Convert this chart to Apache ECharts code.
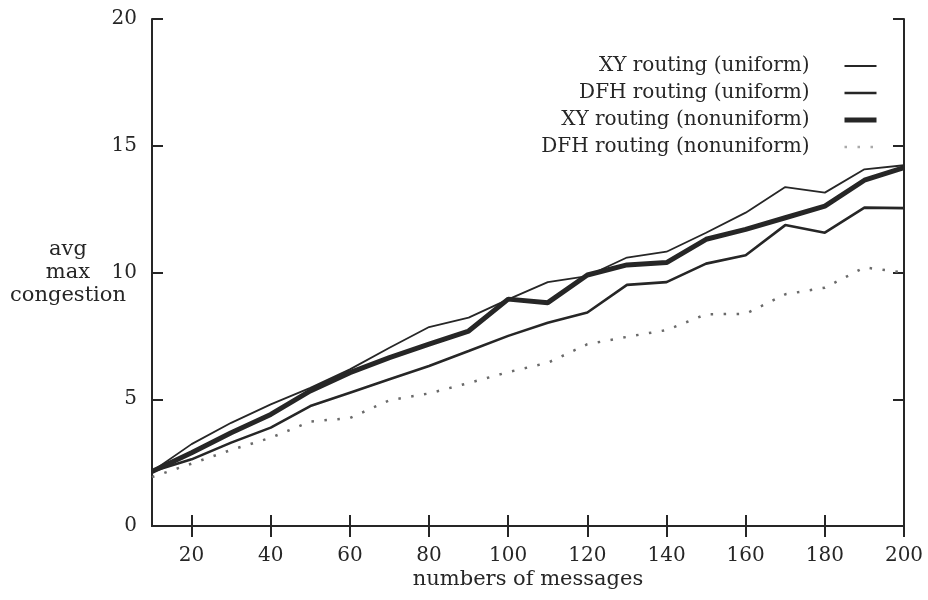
<!DOCTYPE html>
<html>
<head>
<meta charset="utf-8">
<script src="https://cdn.jsdelivr.net/npm/echarts@6/dist/echarts.min.js"></script>
<style>
  html, body { margin: 0; padding: 0; background: #fff; }
  #myChart { width: 928px; height: 600px; }
</style>
</head>
<body>
<div id="myChart"></div>
<script>
// number of messages
const messages = [10, 20, 30, 40, 50, 60, 70, 80, 90, 100, 110, 120, 130, 140, 150, 160, 170, 180, 190, 200];
const xyUniform = [2.15, 3.23, 4.07, 4.8, 5.45, 6.18, 7.03, 7.85, 8.22, 8.94, 9.62, 9.86, 10.59, 10.82, 11.57, 12.36, 13.37, 13.15, 14.07, 14.23];
const dfhUniform = [2.15, 2.63, 3.29, 3.88, 4.73, 5.26, 5.79, 6.31, 6.9, 7.5, 8.02, 8.42, 9.51, 9.62, 10.35, 10.68, 11.87, 11.57, 12.56, 12.54];
const xyNonuniform = [2.15, 2.89, 3.68, 4.4, 5.33, 6.05, 6.64, 7.17, 7.69, 8.95, 8.81, 9.9, 10.3, 10.39, 11.31, 11.7, 12.16, 12.62, 13.64, 14.14];
const dfhNonuniform = [1.93, 2.46, 3.0, 3.48, 4.12, 4.26, 4.96, 5.23, 5.64, 6.07, 6.44, 7.17, 7.46, 7.73, 8.35, 8.37, 9.14, 9.4, 10.2, 10.0];
const xTicks = [20, 40, 60, 80, 100, 120, 140, 160, 180, 200];
const yTicks = [0, 5, 10, 15, 20];

const myChart = echarts.init(document.getElementById('myChart'));
const font = 'DejaVu Serif';
const ink = '#262626';

function pairs(values) {
    return messages.map((m, i) => [m, values[i]]);
}

const axisLine = { show: true, lineStyle: { color: ink, width: 2 } };
const tick = { show: true, inside: true, length: 11, lineStyle: { color: ink, width: 2 } };

const option = {
    backgroundColor: '#fff',
    animation: false,
    grid: { left: 152, right: 24, top: 19, bottom: 74, outerBoundsMode: 'none', containLabel: false },
    legend: {
        orient: 'vertical',
        right: 44,
        top: 51,
        align: 'right',
        itemWidth: 32,
        itemHeight: 14,
        itemGap: 7,
        // hide the marker dot, keep only the line sample
        itemStyle: { color: 'rgba(0,0,0,0)', borderWidth: 0, opacity: 0 },
        lineStyle: { width: 'inherit' },
        textStyle: { fontFamily: font, fontSize: 20, color: ink, padding: [0, 30, 0, 0] },
        data: [
            { name: 'XY routing (uniform)', lineStyle: { width: 1.8 } },
            { name: 'DFH routing (uniform)', lineStyle: { width: 2.6 } },
            { name: 'XY routing (nonuniform)', lineStyle: { width: 5 } },
            { name: 'DFH routing (nonuniform)', lineStyle: { width: 2.5, color: '#aaa' } }
        ]
    },
    xAxis: [{
        type: 'value',
        min: 10,
        max: 200,
        name: 'numbers of messages',
        nameLocation: 'middle',
        nameGap: 54,
        nameMoveOverlap: false,
        nameTextStyle: { fontFamily: font, fontSize: 21, color: ink, verticalAlign: 'middle' },
        axisLine: axisLine,
        axisTick: Object.assign({ customValues: xTicks }, tick),
        axisLabel: { customValues: xTicks, fontFamily: font, fontSize: 20, color: ink, margin: 20 },
        splitLine: { show: false }
    }, {
        type: 'value',
        position: 'top',
        min: 10,
        max: 200,
        axisLine: axisLine,
        axisTick: Object.assign({ customValues: xTicks }, tick),
        axisLabel: { show: false },
        splitLine: { show: false }
    }],
    yAxis: [{
        type: 'value',
        min: 0,
        max: 20,
        interval: 5,
        name: 'avg\nmax\ncongestion',
        nameLocation: 'middle',
        nameGap: 84,
        nameRotate: 0,
        nameMoveOverlap: false,
        nameTextStyle: { fontFamily: font, fontSize: 21, color: ink, align: 'center', verticalAlign: 'middle', lineHeight: 23 },
        axisLine: axisLine,
        axisTick: Object.assign({ customValues: yTicks }, tick),
        axisLabel: { fontFamily: font, fontSize: 20, color: ink, margin: 15 },
        splitLine: { show: false }
    }, {
        type: 'value',
        position: 'right',
        min: 0,
        max: 20,
        interval: 5,
        axisLine: axisLine,
        axisTick: tick,
        axisLabel: { show: false },
        splitLine: { show: false }
    }],
    series: [
        {
            name: 'XY routing (uniform)',
            type: 'line',
            symbol: 'none',
            data: pairs(xyUniform),
            color: ink,
            lineStyle: { color: ink, width: 1.8 }
        },
        {
            name: 'DFH routing (uniform)',
            type: 'line',
            symbol: 'none',
            data: pairs(dfhUniform),
            color: ink,
            lineStyle: { color: ink, width: 2.6 }
        },
        {
            name: 'XY routing (nonuniform)',
            type: 'line',
            symbol: 'none',
            data: pairs(xyNonuniform),
            color: ink,
            lineStyle: { color: ink, width: 5 }
        },
        {
            name: 'DFH routing (nonuniform)',
            type: 'line',
            symbol: 'none',
            data: pairs(dfhNonuniform),
            color: '#6a6a6a',
            lineStyle: { color: '#6a6a6a', width: 2.5, type: [2.5, 10.5] }
        }
    ]
};
myChart.setOption(option);
</script>
</body>
</html>
